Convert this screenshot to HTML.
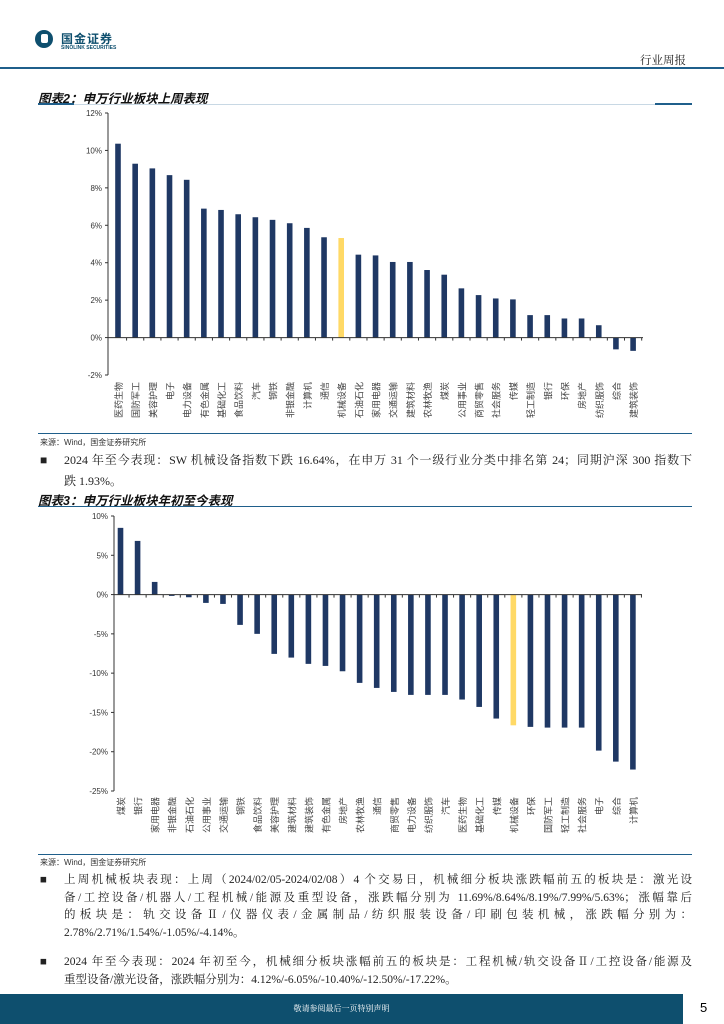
<!DOCTYPE html>
<html><head><meta charset="utf-8"><style>
body{margin:0;width:724px;height:1024px;position:relative;background:#fff;font-family:"Liberation Sans","Noto Sans CJK SC",sans-serif;overflow:hidden}
.a{position:absolute}
.t{font-family:"Liberation Serif","Noto Serif CJK SC",serif;font-size:12px;color:#222}
.ttl{font-weight:bold;font-style:italic;font-size:12.5px;color:#111}
.src{font-size:8px;color:#333}
.ln{text-align:justify;text-align-last:justify;white-space:nowrap;height:17.5px}
.ln.l{text-align-last:left}
</style></head><body>
<div class="a" style="left:34px;top:29px">
<svg width="20" height="20"><circle cx="10" cy="10" r="9" fill="#0e4f6e"/><rect x="7" y="5" width="7" height="9" rx="2" fill="#fff"/></svg></div>
<div class="a" style="left:61px;top:30px;font-size:12px;font-weight:bold;color:#0e4f6e;letter-spacing:1px">国金证券</div>
<div class="a" style="left:61px;top:45px;font-size:5px;font-weight:bold;color:#0e4f6e">SINOLINK SECURITIES</div>
<div class="a t" style="left:640px;top:52px;font-size:11.5px">行业周报</div>
<div class="a" style="left:0;top:67px;width:724px;height:1.5px;background:#1f5f8b"></div>

<div class="a ttl" style="left:38px;top:88px">图表2：申万行业板块上周表现</div>
<div class="a" style="left:38px;top:104px;width:654px;height:1px;background:#c8d8e4"></div>
<div class="a" style="left:38px;top:103px;width:36px;height:2px;background:#1f5f8b"></div>
<div class="a" style="left:655px;top:103px;width:37px;height:2px;background:#1f5f8b"></div>

<svg class="a" id="c1" style="left:0;top:100px" width="724" height="330"></svg>
<div class="a" style="left:38px;top:433px;width:654px;height:1px;background:#1f5f8b"></div>
<div class="a src" style="left:40px;top:437px">来源：Wind，国金证券研究所</div>
<div class="a t" style="left:40px;top:450px;width:652px;line-height:21px"><span style="position:absolute;left:0">■</span><div style="margin-left:24px"><div class="ln" style="height:21px">2024 年至今表现：SW 机械设备指数下跌 16.64%，在申万 31 个一级行业分类中排名第 24；同期沪深 300 指数下</div><div>跌 1.93%。</div></div></div>

<div class="a ttl" style="left:38px;top:490px">图表3：申万行业板块年初至今表现</div>
<div class="a" style="left:38px;top:506px;width:654px;height:1px;background:#1f5f8b"></div>
<svg class="a" id="c2" style="left:0;top:505px" width="724" height="345"></svg>
<div class="a" style="left:38px;top:854px;width:654px;height:1px;background:#1f5f8b"></div>
<div class="a src" style="left:40px;top:857px">来源：Wind，国金证券研究所</div>

<div class="a t" style="left:40px;top:872px;width:652px;line-height:17.5px;font-size:11.5px"><span style="position:absolute;left:0">■</span><div style="margin-left:24px">
<div class="ln">上周机械板块表现：上周（2024/02/05-2024/02/08）4 个交易日，机械细分板块涨跌幅前五的板块是：激光设</div>
<div class="ln">备/工控设备/机器人/工程机械/能源及重型设备，涨跌幅分别为 11.69%/8.64%/8.19%/7.99%/5.63%；涨幅靠后</div>
<div class="ln">的板块是：轨交设备Ⅱ/仪器仪表/金属制品/纺织服装设备/印刷包装机械，涨跌幅分别为：</div>
<div class="ln l">2.78%/2.71%/1.54%/-1.05%/-4.14%。</div></div></div>
<div class="a t" style="left:40px;top:954px;width:652px;line-height:17.5px;font-size:11.5px"><span style="position:absolute;left:0">■</span><div style="margin-left:24px">
<div class="ln">2024 年至今表现：2024 年初至今，机械细分板块涨幅前五的板块是：工程机械/轨交设备Ⅱ/工控设备/能源及</div>
<div class="ln l">重型设备/激光设备，涨跌幅分别为：4.12%/-6.05%/-10.40%/-12.50%/-17.22%。</div></div></div>

<div class="a" style="left:0;top:994px;width:683px;height:30px;background:#0e4f6e"></div>
<div class="a" style="left:0;top:1003px;width:683px;text-align:center;color:#fff;font-size:8px;font-family:'Liberation Serif','Noto Serif CJK SC',serif">敬请参阅最后一页特别声明</div>
<div class="a" style="left:700px;top:1000px;font-size:13px">5</div>

<script>
const cats1=["医药生物","国防军工","美容护理","电子","电力设备","有色金属","基础化工","食品饮料","汽车","钢铁","非银金融","计算机","通信","机械设备","石油石化","家用电器","交通运输","建筑材料","农林牧渔","煤炭","公用事业","商贸零售","社会服务","传媒","轻工制造","银行","环保","房地产","纺织服饰","综合","建筑装饰"];
const vals1=[10.36,9.29,9.04,8.68,8.43,6.89,6.82,6.59,6.43,6.29,6.11,5.86,5.36,5.32,4.43,4.39,4.04,4.04,3.61,3.36,2.63,2.27,2.09,2.04,1.2,1.2,1.02,1.02,0.66,-0.63,-0.71];
const ticks1=[12,10,8,6,4,2,0,-2];
const cats2=["煤炭","银行","家用电器","非银金融","石油石化","公用事业","交通运输","钢铁","食品饮料","美容护理","建筑材料","建筑装饰","有色金属","房地产","农林牧渔","通信","商贸零售","电力设备","纺织服饰","汽车","医药生物","基础化工","传媒","机械设备","环保","国防军工","轻工制造","社会服务","电子","综合","计算机"];
const vals2=[8.49,6.83,1.61,-0.17,-0.34,-1.06,-1.19,-3.86,-5.0,-7.55,-8.02,-8.82,-9.08,-9.76,-11.24,-11.88,-12.39,-12.77,-12.77,-12.77,-13.36,-14.3,-15.78,-16.64,-16.84,-16.93,-16.93,-16.93,-19.86,-21.26,-22.27];
const ticks2=[10,5,0,-5,-10,-15,-20,-25];
const NS='http://www.w3.org/2000/svg';
function mk(svg,tag,at){const e=document.createElementNS(NS,tag);for(const k in at)e.setAttribute(k,at[k]);svg.appendChild(e);return e;}
function draw(id,cats,vals,ticks,o){
 const svg=document.getElementById(id);
 const yy=v=>o.y0+(ticks[0]-v)*(o.y1-o.y0)/(ticks[0]-ticks[ticks.length-1]);
 const x=i=>o.x0+i*o.step;
 const ax=mk(svg,'line',{x1:o.ax,y1:o.y0,x2:o.ax,y2:o.y1,stroke:'#333','stroke-width':1});
 
 ticks.forEach(t=>{
  const l=mk(svg,'line',{x1:o.ax-3,x2:o.ax,y1:yy(t),y2:yy(t),stroke:'#333'});
  
  const tx=mk(svg,'text',{x:o.ax-6,y:yy(t)+3,'text-anchor':'end','font-size':8,fill:'#333'});
  tx.textContent=t+'%';
  
 });
 cats.forEach((c,i)=>{
  const v=vals[i],top=Math.min(yy(v),yy(0)),h=Math.abs(yy(v)-yy(0));
  const r=mk(svg,'rect',{x:x(i)-2.8,y:top,width:5.6,height:h,fill:c==='机械设备'?'#ffd966':'#1f3864'});
  
  const tk=mk(svg,'line',{x1:x(i)+o.step/2,x2:x(i)+o.step/2,y1:yy(0),y2:yy(0)+3,stroke:'#333'});
  
  const lx=x(i)+4,ly=o.ly;
  const t=mk(svg,'text',{x:lx,y:ly,'font-size':9,fill:'#444','text-anchor':'end',transform:'rotate(-90 '+lx+' '+ly+')'});
  t.textContent=c;
  
 });
 const xa=mk(svg,'line',{x1:o.ax,x2:o.xe,y1:yy(0),y2:yy(0),stroke:'#333','stroke-width':1});
 
}
draw('c1',cats1,vals1,ticks1,{ax:108,xe:643,x0:118,step:17.17,y0:13,y1:275,ly:282});
draw('c2',cats2,vals2,ticks2,{ax:114,xe:642,x0:120.5,step:17.08,y0:11,y1:286,ly:292});
</script>
</body></html>
